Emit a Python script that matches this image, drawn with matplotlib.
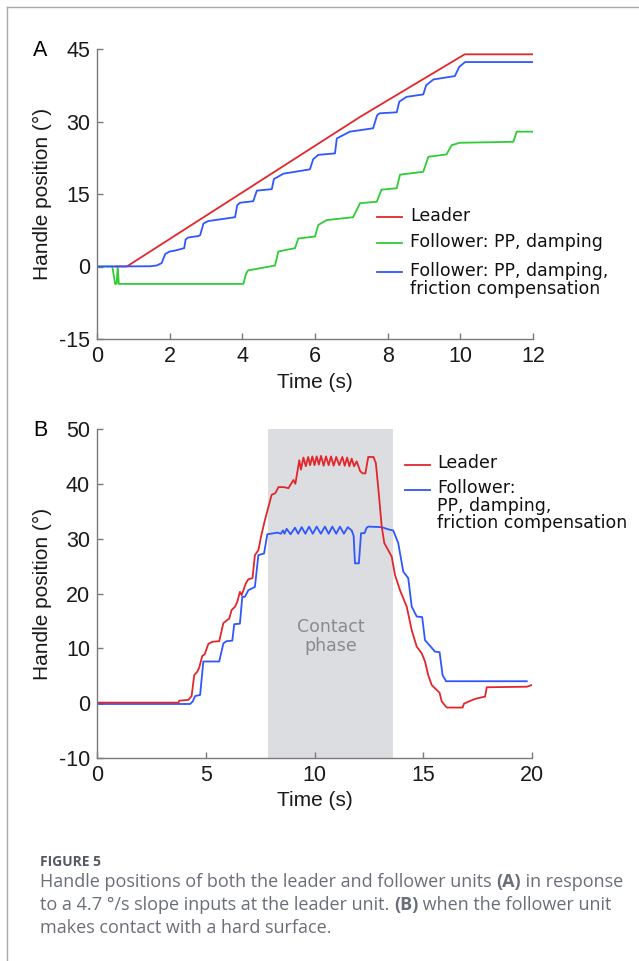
import matplotlib
matplotlib.use("Agg")
import matplotlib.pyplot as plt
from matplotlib.lines import Line2D

# ---- panel A: ramp input ----
a_leader_t = [0.5, 0.82, 7.25, 10.12, 12.0]
a_leader_v = [0.0, 0.0, 31.0, 43.9, 43.9]

a_damp_t = [0.0, 0.42, 0.5, 0.54, 0.57, 0.6, 4.03, 4.1, 4.16, 4.9, 4.99, 5.45, 5.54,
            6.0, 6.09, 6.32, 7.05, 7.24, 7.7, 7.83, 8.25, 8.34, 8.98, 9.12, 9.62,
            9.76, 9.99, 11.46, 11.55, 12.0]
a_damp_v = [0.0, 0.0, -3.6, -3.6, 0.0, -3.6, -3.6, -1.5, -0.8, 0.2, 3.1, 3.8, 5.8,
            6.2, 8.6, 9.6, 10.2, 13.1, 13.4, 15.9, 16.2, 19.0, 19.6, 22.7, 23.2,
            25.1, 25.6, 25.8, 27.9, 27.9]

a_fric_t = [0.0, 1.46, 1.64, 1.78, 1.83, 1.88, 2.0, 2.15, 2.40, 2.44, 2.51, 2.79, 2.84,
            2.93, 3.06, 3.8, 3.86, 3.94, 4.30, 4.40, 4.81, 4.87, 5.13, 5.86, 5.95,
            6.09, 6.55, 6.6, 6.96, 7.6, 7.71, 7.78, 8.25, 8.32, 8.52, 8.98, 9.06,
            9.26, 9.85, 9.97, 10.13, 12.0]
a_fric_v = [0.0, 0.05, 0.2, 0.7, 1.7, 2.6, 3.1, 3.3, 3.8, 5.6, 6.0, 6.3, 6.5,
            8.9, 9.4, 10.2, 12.7, 13.2, 13.5, 15.7, 16.0, 18.1, 19.2, 20.1, 22.2,
            23.1, 23.4, 26.5, 27.9, 28.6, 31.3, 31.7, 31.9, 34.1, 35.1, 35.6, 37.5,
            38.7, 39.4, 41.3, 42.3, 42.3]

# ---- panel B: contact with hard surface ----
b_leader_t = [0.0, 3.75, 3.78, 4.2, 4.35, 4.47, 4.62, 4.7, 4.84, 4.95, 5.12, 5.3, 5.62,
              5.81, 6.0, 6.08, 6.19, 6.35, 6.45, 6.57, 6.65, 6.85, 6.96, 7.15, 7.26,
              7.42, 7.55, 7.72, 8.03, 8.2, 8.34, 8.6, 8.8, 9.03, 9.12, 9.3, 9.38,
              9.49, 9.6, 9.71, 9.8, 9.9, 10.0, 10.1, 10.2, 10.3, 10.42, 10.53, 10.65,
              10.76, 10.88, 11.0, 11.14, 11.28, 11.39, 11.5, 11.6, 11.71, 11.82, 11.94,
              12.1, 12.22, 12.34, 12.47, 12.71, 12.82, 12.94, 13.09, 13.21, 13.39,
              13.55, 13.7, 13.93, 14.24, 14.47, 14.7, 14.93, 15.08, 15.23, 15.39,
              15.62, 15.75, 15.85, 16.08, 16.81, 16.87, 17.15, 17.4, 17.84, 17.92,
              19.76, 19.99]
b_leader_v = [0.1, 0.1, 0.45, 0.6, 1.3, 5.1, 5.8, 6.5, 8.6, 8.9, 10.8, 11.2, 11.3,
              14.6, 15.2, 15.4, 17.0, 17.6, 18.5, 20.3, 19.7, 21.9, 22.6, 22.8, 27.0,
              27.9, 30.5, 33.4, 38.0, 38.3, 39.4, 39.4, 39.2, 40.7, 40.0, 44.3, 42.6,
              44.8, 43.2, 44.9, 43.4, 45.0, 43.4, 45.0, 43.5, 45.1, 43.3, 45.0, 43.4,
              45.0, 43.3, 44.9, 43.4, 44.9, 43.3, 44.8, 43.2, 44.6, 43.2, 44.1,
              42.3, 41.9, 41.9, 44.9, 44.9, 43.8, 38.9, 32.2, 29.2, 27.9,
              26.7, 23.4, 20.6, 17.6, 13.3, 10.3, 9.1, 7.6, 5.1, 3.3,
              2.4, 1.9, 0.3, -0.8, -0.8, -0.1, 0.4, 0.8, 1.2, 2.9,
              3.0, 3.3]

b_fric_t = [0.0, 4.28, 4.4, 4.51, 4.74, 4.89, 5.62, 5.81, 5.95, 6.22, 6.31, 6.57, 6.68,
            6.8, 6.96, 7.26, 7.42, 7.68, 7.83, 8.3, 8.45, 8.55, 8.62, 8.72, 8.9,
            9.1, 9.25, 9.41, 9.58, 9.75, 9.92, 10.1, 10.29, 10.48, 10.65, 10.82,
            11.0, 11.17, 11.35, 11.53, 11.71, 11.8, 11.86, 12.04, 12.14, 12.3, 12.4,
            12.48, 13.09, 13.39, 13.62, 13.85, 14.08, 14.31, 14.47, 14.7, 14.95,
            15.08, 15.54, 15.75, 15.89, 16.05, 19.76]
b_fric_v = [-0.15, -0.15, 0.3, 1.3, 1.5, 7.6, 7.6, 10.9, 11.3, 11.4, 14.4, 14.5, 19.4,
            19.4, 20.6, 21.2, 27.0, 27.3, 30.8, 31.1, 30.9, 31.5, 30.9, 31.8, 30.8,
            32.0, 30.9, 32.1, 30.9, 32.2, 30.9, 32.2, 30.9, 32.2, 30.9, 32.2,
            30.9, 32.2, 30.9, 32.1, 31.5, 30.5, 25.5, 25.5, 31.0, 31.0, 32.0,
            32.2, 32.1, 31.7, 31.5, 29.2, 24.0, 22.8, 17.6, 15.8, 15.7,
            11.5, 9.4, 9.3, 5.1, 4.0, 4.0]

contact_phase = (7.86, 13.6)

RED = "#e3262b"
GREEN = "#2fcd35"
BLUE = "#2f56ff"
SPINE = "#7a7a7a"
VERD = "DejaVu Sans"

plt.rcParams["font.family"] = "Liberation Sans"
plt.rcParams["axes.unicode_minus"] = False

fig = plt.figure(figsize=(6.39, 9.61), dpi=100)
W, H = 639.0, 961.0


def make_axes(l, t, r, b):
    return fig.add_axes([l / W, 1 - b / H, (r - l) / W, (b - t) / H])


def style(ax):
    for s in ["top", "right"]:
        ax.spines[s].set_visible(False)
    for s in ["left", "bottom"]:
        ax.spines[s].set_color(SPINE)
        ax.spines[s].set_linewidth(1.0)
    ax.tick_params(direction="in", length=4, width=1.0, color=SPINE,
                   labelsize=15.5, labelcolor="#1a1a1a", pad=5)
    ax.set_xlabel("Time (s)", fontsize=15, color="#1a1a1a", labelpad=4)
    ax.set_ylabel("Handle position (°)", fontsize=15, color="#1a1a1a", labelpad=5)


def legend_entry(ax, x0, x1, xt, y, color, text):
    ax.add_line(Line2D([x0, x1], [y, y], color=color, lw=1.3,
                       transform=ax.transAxes, clip_on=False))
    ax.text(xt, y + 0.034, text, transform=ax.transAxes, fontsize=12.5, fontfamily=VERD,
            va="top", ha="left", color="#111111", linespacing=0.98)


# ---------------- panel A ----------------
axA = make_axes(97, 49, 533, 339)
axA.plot(a_leader_t, a_leader_v, color=RED, lw=1.3)
axA.plot(a_damp_t, a_damp_v, color=GREEN, lw=1.3)
axA.plot(a_fric_t, a_fric_v, color=BLUE, lw=1.3)
axA.set_xlim(0, 12)
axA.set_ylim(-15, 45)
axA.set_xticks(range(0, 13, 2))
axA.set_yticks([-15, 0, 15, 30, 45])
style(axA)
legend_entry(axA, 0.642, 0.70, 0.718, 0.4217, RED, "Leader")
legend_entry(axA, 0.642, 0.70, 0.718, 0.330, GREEN, "Follower: PP, damping")
legend_entry(axA, 0.642, 0.70, 0.718, 0.232, BLUE,
             "Follower: PP, damping,\nfriction compensation")

# ---------------- panel B ----------------
axB = make_axes(97, 429, 532, 758)
axB.axvspan(contact_phase[0], contact_phase[1], color="#dcdde0", lw=0, zorder=0)
axB.plot(b_fric_t, b_fric_v, color=BLUE, lw=1.3)
axB.plot(b_leader_t, b_leader_v, color=RED, lw=1.3)
axB.set_xlim(0, 20)
axB.set_ylim(-10, 50)
axB.set_xticks([0, 5, 10, 15, 20])
axB.set_yticks(range(-10, 51, 10))
style(axB)
axB.text(sum(contact_phase) / 2, 12.1, "Contact\nphase", ha="center", va="center",
         fontsize=12.5, fontfamily=VERD, color="#8a8a8a", linespacing=1.05)
legend_entry(axB, 0.708, 0.766, 0.782, 0.8906, RED, "Leader")
legend_entry(axB, 0.708, 0.766, 0.782, 0.8146, BLUE,
             "Follower:\nPP, damping,\nfriction compensation")

# panel letters
fig.text(40 / W, 1 - 50 / H, "A", fontsize=15.5, ha="center", va="center")
fig.text(40 / W, 1 - 430 / H, "B", fontsize=15.5, ha="center", va="center")

# frame lines (left and top)
fig.add_artist(Line2D([7 / W, 7 / W], [0, 1 - 7 / H], color="#a8a8a8", lw=1.0,
                      transform=fig.transFigure))
fig.add_artist(Line2D([7 / W, 1], [1 - 7 / H, 1 - 7 / H], color="#a8a8a8", lw=1.0,
                      transform=fig.transFigure))

# caption
CAP = "#6a6e78"
fig.text(40 / W, 1 - 866 / H, "FIGURE 5", fontsize=10, fontweight="bold",
         fontfamily="Open Sans", color="#555a62", va="baseline")

renderer = fig.canvas.get_renderer()
caption_lines = [
    [("Handle positions of both the leader and follower units ", False), ("(A)", True),
     (" in response", False)],
    [("to a 4.7 °/s slope inputs at the leader unit. ", False), ("(B)", True),
     (" when the follower unit", False)],
    [("makes contact with a hard surface.", False)],
]
baselines = [887, 910, 933]
for runs, yb in zip(caption_lines, baselines):
    x = 40 / W
    for s, bold in runs:
        t = fig.text(x, 1 - yb / H, s, fontsize=13.0, fontfamily="Open Sans",
                     fontweight="bold" if bold else "normal", color=CAP, va="baseline")
        x += t.get_window_extent(renderer).width / fig.bbox.width

fig.savefig("out.png", dpi=100)
